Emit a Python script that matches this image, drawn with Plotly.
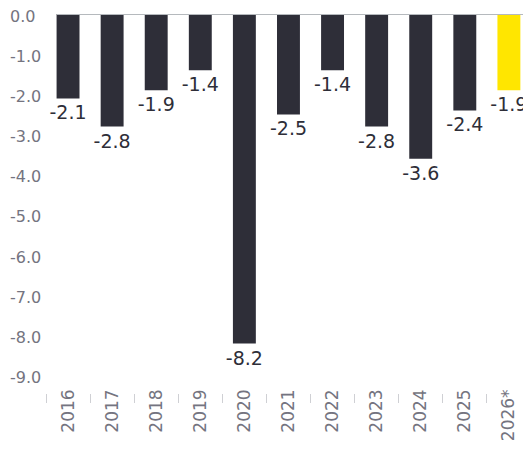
import plotly.graph_objects as go

# Annual balance, % of GDP
years = ["2016", "2017", "2018", "2019", "2020", "2021", "2022", "2023", "2024", "2025", "2026*"]
values = [-2.1, -2.8, -1.9, -1.4, -8.2, -2.5, -1.4, -2.8, -3.6, -2.4, -1.9]
bar_colors = ["#2e2e38"] * 10 + ["#ffe600"]

y_ticks = [0, -1, -2, -3, -4, -5, -6, -7, -8, -9]
y_tick_labels = [f"{v:.1f}" for v in y_ticks]

FONT = "DejaVu Sans"
GREY = "#747480"
DARK = "#2e2e38"

fig = go.Figure(
    go.Bar(
        x=years,
        y=values,
        marker=dict(color=bar_colors, line=dict(width=0)),
        width=0.52,
        text=[f"{v:.1f}" for v in values],
        textposition="outside",
        constraintext="none",
        textfont=dict(family=FONT, size=19, color=DARK),
        cliponaxis=False,
        hoverinfo="skip",
    )
)

# y-axis labels, left-aligned in the left margin
for v, lab in zip(y_ticks, y_tick_labels):
    fig.add_annotation(
        x=-0.08, xref="paper", xanchor="left",
        y=v, yref="y", yanchor="middle", yshift=-2,
        text=lab, showarrow=False,
        font=dict(family=FONT, size=16, color=GREY),
    )

# baseline at zero
fig.add_shape(
    type="line", xref="x", yref="y",
    x0=-0.26, x1=10.5, y0=0, y1=0,
    line=dict(color="#b5b9bd", width=2),
    layer="above",
)

fig.update_layout(
    width=523,
    height=452,
    margin=dict(l=46, r=0, t=14, b=59),
    paper_bgcolor="white",
    plot_bgcolor="white",
    showlegend=False,
    bargap=0.48,
    xaxis=dict(
        range=[-0.5, 10.32],
        type="category",
        tickson="boundaries",
        ticks="outside",
        ticklen=9,
        tickwidth=1,
        tickcolor="#cfd0d4",
        tickangle=-90,
        ticklabelstandoff=-8,
        tickfont=dict(family=FONT, size=17, color=GREY),
        showgrid=False,
        showline=False,
        zeroline=False,
    ),
    yaxis=dict(
        range=[-9.43, 0],
        tickvals=y_ticks,
        showticklabels=False,
        showgrid=False,
        zeroline=False,
        showline=False,
    ),
)

fig.write_html("out.html")
